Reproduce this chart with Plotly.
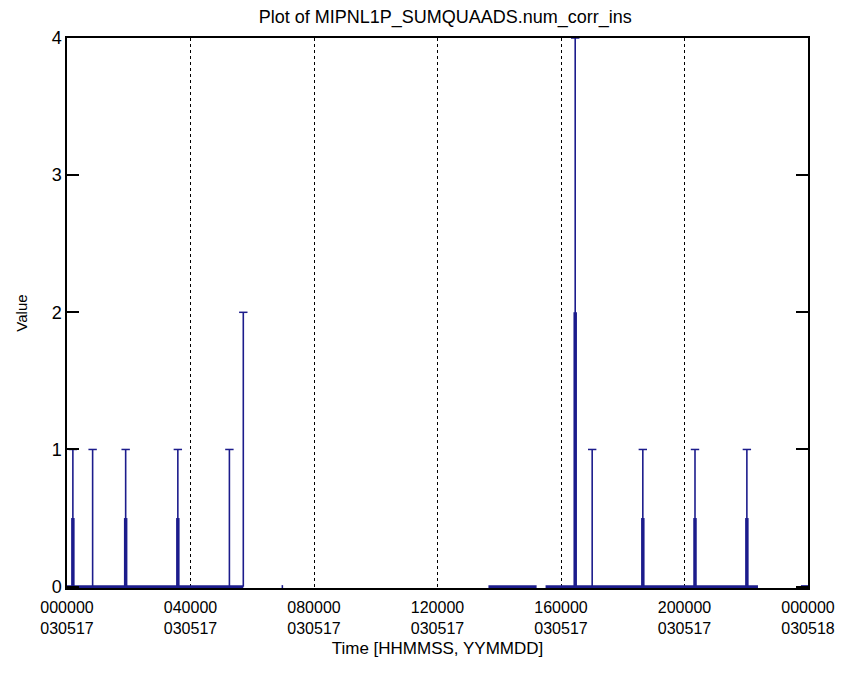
import plotly.graph_objects as go

# ---- data (time in hours since 000000 030517) ----
base_starts = [0.0, 6.95, 13.65, 15.50, 23.77]
base_ends = [5.71, 7.00, 15.21, 22.38, 24.0]

spike_times = [0.19, 0.83, 1.90, 3.59, 5.26, 5.71, 16.46, 17.01, 18.65, 20.34, 22.02]
spike_values = [1, 1, 1, 1, 1, 2, 4, 1, 1, 1, 1]
spike_thick = [0.5, 0, 0.5, 0.5, 0, 0, 2, 0, 0.5, 0.5, 0.5]

tick_vals = [0, 4, 8, 12, 16, 20, 24]
tick_text = ["000000<br>030517", "040000<br>030517", "080000<br>030517",
             "120000<br>030517", "160000<br>030517", "200000<br>030517",
             "000000<br>030518"]
y_ticks = [0, 1, 2, 3, 4]

title_text = "Plot of MIPNL1P_SUMQUAADS.num_corr_ins"
x_title = "Time [HHMMSS, YYMMDD]"
y_title = "Value"

BLUE = "#1c1c8c"
FONT = "Liberation Sans"

# ---- build traces ----
bx, by = [], []
for s, e in zip(base_starts, base_ends):
    bx += [s, e, None]
    by += [0, 0, None]

sx, sy = [], []
for t, v in zip(spike_times, spike_values):
    sx += [t, t, None]
    sy += [0, v, None]

tx, ty = [], []
for t, h in zip(spike_times, spike_thick):
    if h > 0:
        tx += [t, t, None]
        ty += [0, h, None]

fig = go.Figure()
fig.add_trace(go.Scatter(x=bx, y=by, mode="lines",
                         line=dict(color=BLUE, width=3), hoverinfo="skip"))
fig.add_trace(go.Scatter(x=sx, y=sy, mode="lines",
                         line=dict(color=BLUE, width=1.6), hoverinfo="skip"))
fig.add_trace(go.Scatter(x=tx, y=ty, mode="lines",
                         line=dict(color=BLUE, width=3.5), hoverinfo="skip"))
fig.add_trace(go.Scatter(x=spike_times, y=spike_values, mode="markers",
                         marker=dict(symbol="line-ew-open", size=6, color=BLUE,
                                     line=dict(color=BLUE, width=1.5)),
                         hoverinfo="skip"))

# page body has an 8px margin, so the figure is offset by that amount
fig.update_layout(
    width=849, height=667,
    margin=dict(l=59, r=49, t=30, b=87),
    paper_bgcolor="white", plot_bgcolor="white",
    showlegend=False,
    font=dict(family=FONT, size=17, color="black"),
    title=dict(text=title_text, x=0.515, xanchor="center", y=0.997, yanchor="top",
               font=dict(family=FONT, size=18, color="black")),
)
fig.update_xaxes(
    range=[0, 24], tickvals=tick_vals, ticktext=tick_text,
    showgrid=True, gridcolor="black", griddash="dot", gridwidth=1.3,
    zeroline=False, showline=True, linecolor="black", linewidth=1.5,
    mirror=True, ticks="", tickfont=dict(size=16), ticklabelstandoff=4,
    title=dict(text=x_title, font=dict(size=17), standoff=6),
)
fig.update_yaxes(
    range=[-0.01, 4.0], tickvals=y_ticks,
    showgrid=False, zeroline=False, showline=True, linecolor="black",
    linewidth=1.5, mirror="ticks", ticks="inside", ticklen=12,
    tickcolor="black", tickwidth=1.5, tickfont=dict(size=18),
    title=dict(text=y_title, font=dict(size=15), standoff=20),
)

fig.write_html("out.html")
